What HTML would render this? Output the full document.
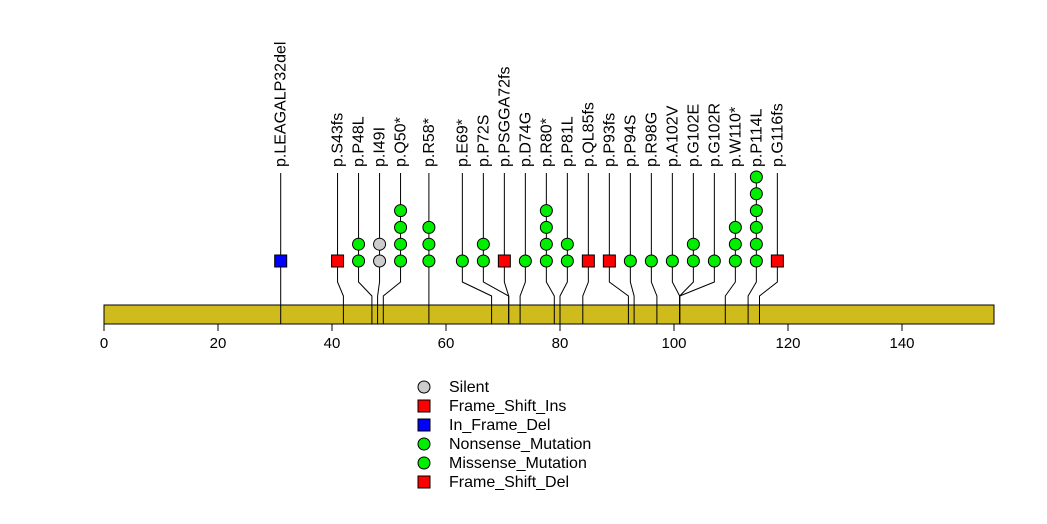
<!DOCTYPE html>
<html><head><meta charset="utf-8"><style>
html,body{margin:0;padding:0;background:#fff;}
svg{display:block;font-family:"Liberation Sans",sans-serif;}
</style></head><body>
<svg id="chart" width="1047" height="524" viewBox="0 0 1047 524" xmlns="http://www.w3.org/2000/svg">
<rect x="104" y="305" width="890" height="19" fill="#cfbc1c" stroke="#000" stroke-width="1"/>
<g id="axis"></g>
<g id="lolli"></g>
<g id="legend"></g>
</svg>
<script>
const positions=[31,42,47,48,49,57,68,71,71,73,79,80,84,92,93,97,101,101,101,109,113,115];
const labels=["p.LEAGALP32del","p.S43fs","p.P48L","p.I49I","p.Q50*","p.R58*","p.E69*","p.P72S","p.PSGGA72fs","p.D74G","p.R80*","p.P81L","p.QL85fs","p.P93fs","p.P94S","p.R98G","p.A102V","p.G102E","p.G102R","p.W110*","p.P114L","p.G116fs"];
const counts=[1,1,2,2,4,3,1,2,1,1,4,2,1,1,1,1,1,2,1,3,6,1];
const types=["In_Frame_Del","Frame_Shift_Del","Missense_Mutation","Silent","Nonsense_Mutation","Nonsense_Mutation","Nonsense_Mutation","Missense_Mutation","Frame_Shift_Del","Missense_Mutation","Nonsense_Mutation","Missense_Mutation","Frame_Shift_Del","Frame_Shift_Del","Missense_Mutation","Missense_Mutation","Missense_Mutation","Missense_Mutation","Missense_Mutation","Nonsense_Mutation","Missense_Mutation","Frame_Shift_Del"];
const ticks=[0,20,40,60,80,100,120,140];
const legendLabels=["Silent","Frame_Shift_Ins","In_Frame_Del","Nonsense_Mutation","Missense_Mutation","Frame_Shift_Del"];
const legendTypes=["circle","square","square","circle","circle","square"];
const legendColors=["#cccccc","#ff0000","#0000ff","#00ee00","#00ee00","#ff0000"];
const colorOf={Silent:"#cccccc",Frame_Shift_Ins:"#ff0000",Frame_Shift_Del:"#ff0000",In_Frame_Del:"#0000ff",Nonsense_Mutation:"#00ee00",Missense_Mutation:"#00ee00"};
const NS="http://www.w3.org/2000/svg";
const xs=v=>104+v*5.7;
function mk(tag,at,parent){const e=document.createElementNS(NS,tag);for(const k in at)e.setAttribute(k,at[k]);parent.appendChild(e);return e;}
const ax=document.getElementById('axis');
ticks.forEach(t=>{
  const l=mk('line',{x1:xs(t),x2:xs(t),y1:324,y2:331,stroke:'#000'},ax);
  
  
  const tx=mk('text',{x:xs(t),y:348,'font-size':15,'text-anchor':'middle'},ax);
  tx.textContent=t;
  
  
});
// cluster-based label spreading (min gap 21px)
const GAP=21;
let clusters=positions.map((p,i)=>({items:[i],sum:xs(p)}));
function start(c){return c.sum/c.items.length-GAP*(c.items.length-1)/2;}
let merged=true;
while(merged){
  merged=false;
  for(let k=0;k<clusters.length-1;k++){
    const a=clusters[k],b=clusters[k+1];
    if(start(a)+GAP*a.items.length>start(b)+0.01){
      clusters.splice(k,2,{items:a.items.concat(b.items),sum:a.sum+b.sum});
      merged=true;break;
    }
  }
}
const mxs=[];
clusters.forEach(c=>{const s=start(c);c.items.forEach((i,j)=>mxs[i]=s+j*GAP);});
const g=document.getElementById('lolli');
positions.forEach((p,i)=>{
  const mx=mxs[i];
  const px=xs(p);
  const grp=mk('g',{},g);
  
  
  mk('polyline',{points:`${mx},173 ${mx},282 ${px},296 ${px},324`,fill:'none',stroke:'#000','stroke-width':1},grp);
  const t=mk('text',{transform:`translate(${mx+5},167) rotate(-90)`,'font-size':16},grp);
  t.textContent=labels[i];
  const col=colorOf[types[i]];
  const sq=types[i].indexOf('Frame')>=0;
  for(let k=0;k<counts[i];k++){
    const cy=261-k*16.8;
    let m;
    if(sq) m=mk('rect',{x:mx-6,y:cy-6,width:12,height:12,fill:col,stroke:'#000'},grp);
    else m=mk('circle',{cx:mx,cy:cy,r:6,fill:col,stroke:'#000'},grp);
    
    
  }
});
const lg=document.getElementById('legend');
legendLabels.forEach((s,i)=>{
  const y=387+i*19;
  let m;
  if(legendTypes[i]==='square') m=mk('rect',{x:418,y:y-6,width:12,height:12,fill:legendColors[i],stroke:'#000'},lg);
  else m=mk('circle',{cx:424,cy:y,r:6,fill:legendColors[i],stroke:'#000'},lg);
  
  
  const t=mk('text',{x:449,y:y+5,'font-size':16},lg);
  t.textContent=s;
  
  
});
</script>
</body></html>
